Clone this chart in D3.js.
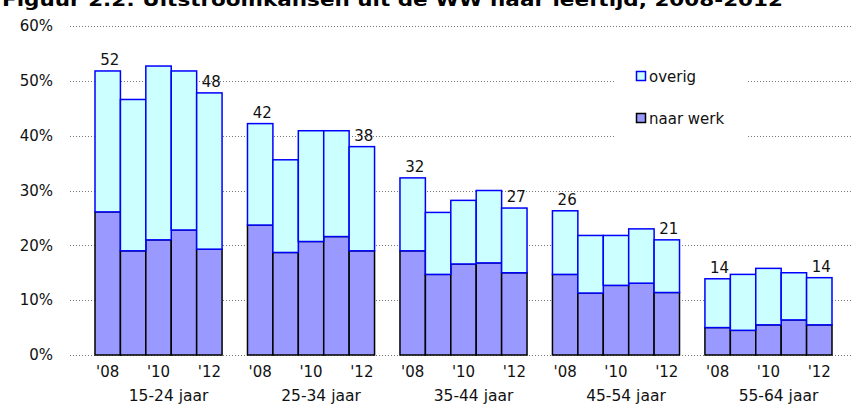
<!DOCTYPE html>
<html>
<head>
<meta charset="utf-8">
<script src="https://cdn.jsdelivr.net/npm/d3@7"></script>
<style>
	body { margin: 0; background: #fff; }
	svg { display: block; font-family: "DejaVu Sans", Verdana, sans-serif; }
</style>
</head>
<body>
<div id="chart"></div>
<script>

var groups = ["15-24 jaar", "25-34 jaar", "35-44 jaar", "45-54 jaar", "55-64 jaar"]

var years = ["'08", "'09", "'10", "'11", "'12"]

// aandeel naar werk, per leeftijdsgroep per jaar (%)
var naarWerk = [
	[26.1, 19.0, 21.0, 22.8, 19.3],
	[23.7, 18.7, 20.7, 21.6, 19.0],
	[19.0, 14.7, 16.6, 16.8, 15.0],
	[14.7, 11.3, 12.7, 13.1, 11.4],
	[5.0, 4.5, 5.5, 6.4, 5.5]
]

// overige uitstroom (%)
var overig = [
	[25.7, 27.6, 31.7, 29.0, 28.5],
	[18.5, 16.9, 20.2, 19.3, 19.0],
	[13.3, 11.3, 11.6, 13.2, 11.8],
	[11.6, 10.5, 9.1, 9.9, 9.6],
	[8.9, 10.2, 10.3, 8.6, 8.6]
]

var yTicks = [0, 10, 20, 30, 40, 50, 60]

var shownYears = ["'08", "'10", "'12"]

var title = "Figuur 2.2: Uitstroomkansen uit de WW naar leeftijd, 2008-2012"

var width = 853

var height = 404

var rows = []

groups.forEach((g, i) => {
	years.forEach((yr, j) => {
		rows.push({
			group: g,
			year: yr,
			index: j,
			werk: naarWerk[i][j],
			overig: overig[i][j],
			total: naarWerk[i][j] + overig[i][j]
		})
	})
})

var svg = d3.select("#chart")
	.append("svg")
	.attr("width", width)
	.attr("height", height)

var y = d3.scaleLinear()
	.domain([0, 60])
	.range([355, 26])

var x0 = d3.scaleBand()
	.domain(groups)
	.range([95, 832])
	.paddingInner(1 / 6)
	.paddingOuter(0)

var x1 = d3.scaleBand()
	.domain(years)
	.range([0, x0.bandwidth()])

// title, cut off at the top like the original
svg.append("text")
	.attr("x", 2)
	.attr("y", 6)
	.attr("font-size", 18)
	.attr("font-weight", "bold")
	.attr("fill", "#000")
	.attr("textLength", 781)
	.attr("lengthAdjust", "spacingAndGlyphs")
	.text(title)

// dotted gridlines
svg.append("g")
	.selectAll("line")
	.data(yTicks)
	.join("line")
	.attr("x1", 70)
	.attr("x2", width)
	.attr("y1", d => Math.round(y(d)) + 0.5)
	.attr("y2", d => Math.round(y(d)) + 0.5)
	.attr("stroke", "#777")
	.attr("stroke-width", 1)
	.style("stroke-dasharray", ("1, 2"))

var yAxis = svg.append("g")
	.attr("transform", "translate(70,0)")
	.call(d3.axisLeft(y).tickValues(yTicks).tickSize(0).tickPadding(17).tickFormat(d => d + "%"))

yAxis.select(".domain").remove()

yAxis.selectAll("text")
	.attr("font-size", 15)
	.attr("font-family", "\"DejaVu Sans\", Verdana, sans-serif")
	.attr("fill", "#111")

// legend (white box hides the gridlines)
svg.append("rect")
	.attr("x", 615)
	.attr("y", 58)
	.attr("width", 131)
	.attr("height", 84)
	.attr("fill", "#fff")

var legend = svg.append("g")
	.attr("transform", "translate(636,71)")
	.attr("font-size", 15)

var legendItems = [
	{ name: "overig", fill: "#ccffff", stroke: "#0000ff" },
	{ name: "naar werk", fill: "#9999ff", stroke: "#000" }
]

legend.selectAll("rect")
	.data(legendItems)
	.join("rect")
	.attr("x", 0.5)
	.attr("y", (d, i) => i * 42 + 0.5)
	.attr("width", 9)
	.attr("height", 9)
	.attr("fill", d => d.fill)
	.attr("stroke", d => d.stroke)
	.attr("stroke-width", 1.5)

legend.selectAll("text")
	.data(legendItems)
	.join("text")
	.attr("x", 13)
	.attr("y", (d, i) => i * 42 + 10.5)
	.attr("fill", "#111")
	.text(d => d.name)

// bars
var bars = svg.append("g")

bars.selectAll("rect.werk")
	.data(rows)
	.join("rect")
	.attr("class", "werk")
	.attr("x", d => x0(d.group) + x1(d.year))
	.attr("y", d => y(d.werk))
	.attr("width", x1.bandwidth())
	.attr("height", d => y(0) - y(d.werk))
	.attr("fill", "#9999ff")
	.attr("stroke", "#000")
	.attr("stroke-width", 1.5)

bars.selectAll("rect.overig")
	.data(rows)
	.join("rect")
	.attr("class", "overig")
	.attr("x", d => x0(d.group) + x1(d.year))
	.attr("y", d => y(d.total))
	.attr("width", x1.bandwidth())
	.attr("height", d => y(d.werk) - y(d.total))
	.attr("fill", "#ccffff")
	.attr("stroke", "#0000ff")
	.attr("stroke-width", 1.5)

// total labels on first and last year
svg.append("g")
	.attr("font-size", 15)
	.attr("text-anchor", "middle")
	.attr("fill", "#111")
	.selectAll("text")
	.data(rows.filter(d => d.index == 0 || d.index == years.length - 1))
	.join("text")
	.attr("x", d => x0(d.group) + x1(d.year) + x1.bandwidth() / 2 + 2)
	.attr("y", d => y(d.total) - 6)
	.text(d => d3.format(".0f")(d.total))

// year ticks and group labels
groups.forEach(g => {

	var xa = svg.append("g")
		.attr("transform", `translate(${x0(g)},355)`)
		.call(d3.axisBottom(x1).tickValues(shownYears).tickSize(0).tickPadding(11))

	xa.select(".domain").remove()

	xa.selectAll("text")
		.attr("font-size", 15)
		.attr("font-family", "\"DejaVu Sans\", Verdana, sans-serif")
		.attr("fill", "#111")

})

svg.append("g")
	.attr("font-size", 15.5)
	.attr("text-anchor", "middle")
	.attr("fill", "#111")
	.selectAll("text")
	.data(groups)
	.join("text")
	.attr("x", d => x0(d) + x0.bandwidth() / 2 + 10)
	.attr("y", 401)
	.text(d => d)

</script>
</body>
</html>
